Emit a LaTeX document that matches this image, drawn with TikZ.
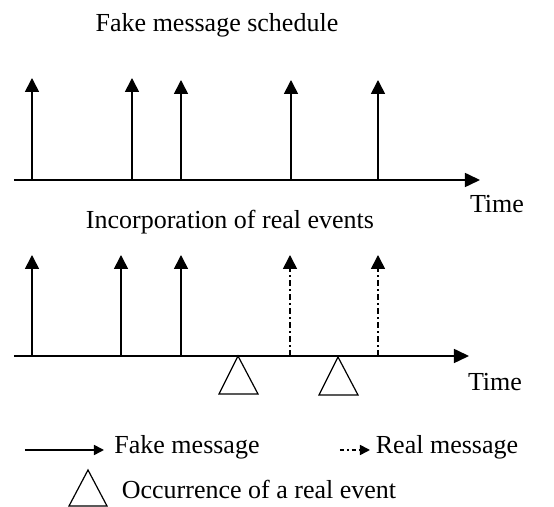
\documentclass[tikz,border=0pt]{standalone}
\usepackage{fontspec}
\setmainfont{Liberation Serif}
\usetikzlibrary{arrows.meta}
\begin{document}
\begin{tikzpicture}[x=0.5pt,y=-0.5pt,line width=0.8pt]
        \tikzset{fake/.style = {draw,-{Triangle[width=7pt,length=7pt]}}}
        \tikzset{real/.style = {draw,dash pattern=on 3pt off 1.5pt on 1pt off 1.5pt,-{Triangle[width=7pt,length=7pt]}}}
        \tikzset{axis/.style = {draw,-{Triangle[width=7pt,length=7.5pt]}}}
        \tikzset{small tip/.style = {-{Triangle[width=5pt,length=5pt]}}}
        \tikzset{label/.style = {inner sep=0pt,font=\fontsize{13}{15}\selectfont}}
        \useasboundingbox (0,0) rectangle (554,507);

        % top: fake message schedule
        \node[label] (title1) at (217,25) {Fake message schedule};
        \coordinate (a0) at (14,180);
        \coordinate (a1) at (480,180);
        \node[label] (time1) at (497,204) {Time};
        \draw[axis] (a0) -- (a1);

        \coordinate (f1) at (32,180);  \coordinate (f1h) at (32,78);
        \coordinate (f2) at (132,180); \coordinate (f2h) at (132,78);
        \coordinate (f3) at (181,180); \coordinate (f3h) at (181,80);
        \coordinate (f4) at (291,180); \coordinate (f4h) at (291,80);
        \coordinate (f5) at (378,180); \coordinate (f5h) at (378,80);
        \draw[fake] (f1) -- (f1h);
        \draw[fake] (f2) -- (f2h);
        \draw[fake] (f3) -- (f3h);
        \draw[fake] (f4) -- (f4h);
        \draw[fake] (f5) -- (f5h);

        % bottom: incorporation of real events
        \node[label] (title2) at (230,222) {Incorporation of real events};
        \coordinate (b0) at (14,356);
        \coordinate (b1) at (469,356);
        \node[label] (time2) at (495,382) {Time};
        \draw[axis] (b0) -- (b1);

        \coordinate (g1) at (32,356);  \coordinate (g1h) at (32,255);
        \coordinate (g2) at (121,356); \coordinate (g2h) at (121,255);
        \coordinate (g3) at (181,356); \coordinate (g3h) at (181,255);
        \coordinate (r1) at (290,356); \coordinate (r1h) at (290,255);
        \coordinate (r2) at (378,356); \coordinate (r2h) at (378,255);
        \draw[fake] (g1) -- (g1h);
        \draw[fake] (g2) -- (g2h);
        \draw[fake] (g3) -- (g3h);
        \draw[real] (r1) -- (r1h);
        \draw[real] (r2) -- (r2h);

        \coordinate (e1) at (238,356);
        \coordinate (e2) at (338,357);
        \draw[line width=0.6pt] (e1) -- ++(-19,38) -- ++(39,0) -- cycle;
        \draw[line width=0.6pt] (e2) -- ++(-19,38) -- ++(39,0) -- cycle;

        % legend
        \coordinate (l1) at (25,450);  \coordinate (l1h) at (104,450);
        \coordinate (l2) at (340,450); \coordinate (l2h) at (370,450);
        \draw[fake,small tip] (l1) -- (l1h);
        \draw[real,small tip,dash pattern=on 2pt off 1.5pt on 0.8pt off 1.5pt] (l2) -- (l2h);
        \node[label] (fakelbl) at (187,447) {Fake message};
        \node[label] (reallbl) at (447,447) {Real message};
        \coordinate (l3) at (88,470);
        \draw[line width=0.6pt] (l3) -- ++(-19,36) -- ++(38,0) -- cycle;
        \node[label] (eventlbl) at (259,489) {Occurrence of a real event};
    \end{tikzpicture}
\end{document}
